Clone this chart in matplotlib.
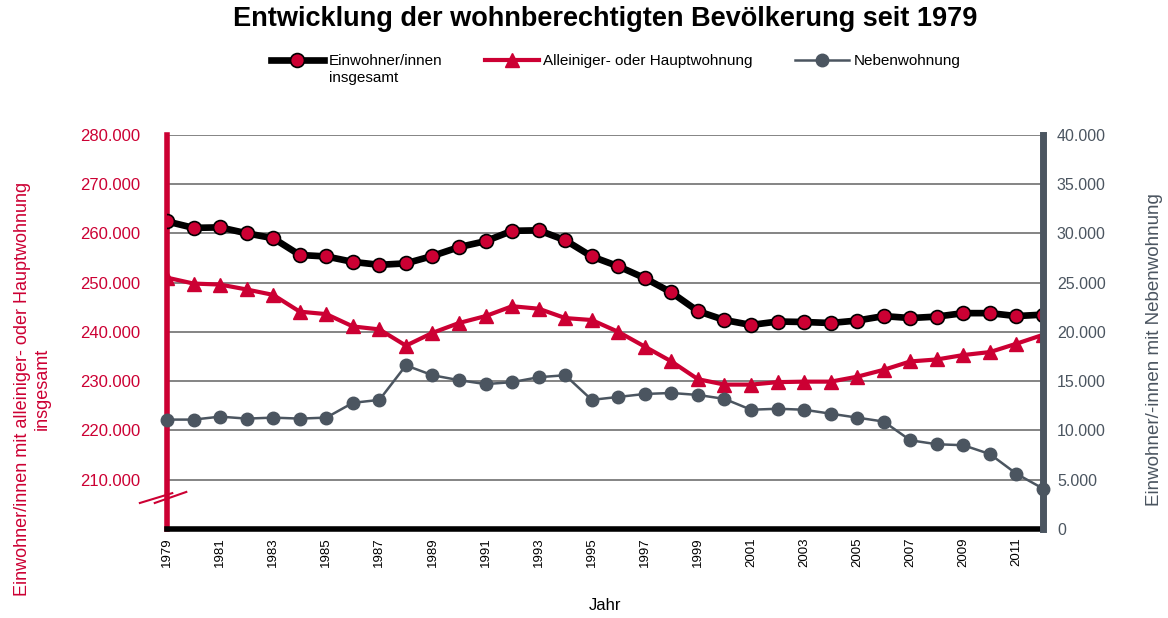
import matplotlib.pyplot as plt
from matplotlib.ticker import FuncFormatter

plt.rcParams['font.family'] = ['Liberation Sans', 'DejaVu Sans']

# Data
years = list(range(1979, 2013))
gesamt = [262.4, 261.1, 261.2, 260.0, 259.0, 255.6, 255.3, 254.2, 253.6, 253.9,
          255.4, 257.2, 258.4, 260.5, 260.6, 258.6, 255.3, 253.3, 250.9, 248.0,
          244.2, 242.4, 241.4, 242.1, 242.0, 241.8, 242.3, 243.2, 242.8, 243.1,
          243.8, 243.8, 243.2, 243.5]
haupt = [251.0, 249.8, 249.6, 248.6, 247.5, 244.1, 243.6, 241.1, 240.5, 237.2,
         239.8, 241.8, 243.2, 245.2, 244.7, 242.8, 242.4, 240.0, 237.0, 234.0,
         230.4, 229.3, 229.3, 229.8, 229.9, 229.9, 230.9, 232.3, 234.0, 234.4,
         235.3, 235.9, 237.6, 239.4]
neben = [11.1, 11.1, 11.4, 11.2, 11.3, 11.2, 11.3, 12.8, 13.1, 16.6,
         15.6, 15.1, 14.7, 14.9, 15.4, 15.6, 13.1, 13.4, 13.7, 13.8,
         13.6, 13.2, 12.1, 12.2, 12.1, 11.7, 11.3, 10.9, 9.0, 8.6,
         8.5, 7.6, 5.6, 4.1]
gesamt = [v * 1000 for v in gesamt]
haupt = [v * 1000 for v in haupt]
neben = [v * 1000 for v in neben]

red = '#CC0033'
grey = '#4B5560'

def de_fmt(v, pos):
    return f'{int(round(v)):,}'.replace(',', '.')

fig = plt.figure(figsize=(11.68, 6.18), dpi=100)
ax = fig.add_axes([0.143, 0.144, 0.75, 0.638])
ax2 = ax.twinx()

l1, = ax.plot(years, gesamt, color='black', lw=4.8, marker='o', ms=10,
              mfc=red, mec='black', mew=1.2, label='Einwohner/innen', zorder=4)
l2, = ax.plot(years, haupt, color=red, lw=3, marker='^', ms=10,
              label='Alleiniger- oder Hauptwohnung', zorder=3)
l3, = ax2.plot(years, neben, color=grey, lw=1.8, marker='o', ms=9,
               label='Nebenwohnung', clip_on=False)

ax.set_xlim(1979, 2012)
ax.set_ylim(200000, 280000)
ax2.set_ylim(0, 40000)
ax.set_yticks(range(210000, 280001, 10000))
ax2.set_yticks(range(0, 40001, 5000))
ax.yaxis.set_major_formatter(FuncFormatter(de_fmt))
ax2.yaxis.set_major_formatter(FuncFormatter(de_fmt))
ax.set_xticks(years[::2])
ax.set_xticklabels([str(y) for y in years[::2]], rotation=90, fontsize=9.5)

ax.grid(axis='y', color='#707070', lw=1.2)
ax.set_axisbelow(True)

for a in (ax, ax2):
    for s in a.spines.values():
        s.set_visible(False)
ax.spines['left'].set_visible(True)
ax.spines['left'].set_color(red)
ax.spines['left'].set_linewidth(4)
ax.spines['bottom'].set_visible(True)
ax.spines['bottom'].set_color('black')
ax.spines['bottom'].set_linewidth(4)
ax2.spines['right'].set_visible(True)
ax2.spines['right'].set_color(grey)
ax2.spines['right'].set_linewidth(5)

ax.tick_params(axis='y', length=0, colors=red, labelsize=12, pad=19)
ax2.tick_params(axis='y', length=0, colors=grey, labelsize=11.5, pad=10)
ax.tick_params(axis='x', length=0, pad=6)

ax.set_xlabel('Jahr', fontsize=12, labelpad=22)
ax.set_ylabel('Einwohner/innen mit alleiniger- oder Hauptwohnung\ninsgesamt',
              color=red, fontsize=13)
ax.yaxis.set_label_coords(-0.133, 0.355)
ax2.set_ylabel('Einwohner/-innen mit Nebenwohnung', color=grey, fontsize=13.5)
ax2.yaxis.set_label_coords(1.117, 0.454)

# axis break marks
ax.plot([-0.031, 0.006], [0.066, 0.091], color=red, lw=1.5,
        transform=ax.transAxes, clip_on=False)
ax.plot([-0.014, 0.022], [0.066, 0.094], color=red, lw=1.5,
        transform=ax.transAxes, clip_on=False)

fig.suptitle('Entwicklung der wohnberechtigten Bevölkerung seit 1979',
             fontsize=19.5, fontweight='bold', x=0.518, y=0.99)
leg = fig.legend(handles=[l1, l2, l3], loc='upper center', bbox_to_anchor=(0.527, 0.935),
                 ncol=3, frameon=False, fontsize=11, handlelength=3.5,
                 columnspacing=2.8, handletextpad=0.3)

# second line of the first legend label
fig.canvas.draw()
bb = leg.get_texts()[0].get_window_extent().transformed(fig.transFigure.inverted())
fig.text(bb.x0, bb.y0 - 0.005, 'insgesamt', fontsize=11, va='top', ha='left')

fig.savefig('out.png', dpi=100)
